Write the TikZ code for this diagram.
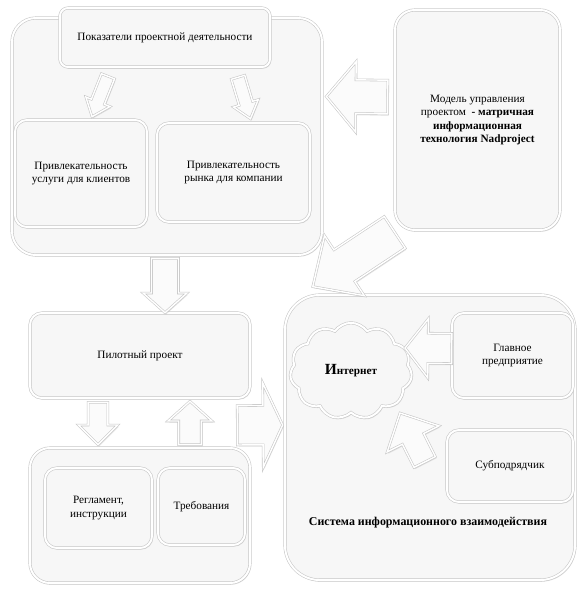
\documentclass[tikz,border=0pt]{standalone}
\usepackage{fontspec}
\setmainfont{Liberation Serif}
\usetikzlibrary{shapes.symbols,shadows,calc}

% hollow block arrow from #1 to #2: body half width, head half width, head length
\newcommand\blockarrow[5]{%
  \draw[barrow] let \p1=(#1), \p2=(#2), \n1={atan2(\y2-\y1,\x2-\x1)}, \n2={veclen(\x2-\x1,\y2-\y1)} in
    [shift={(\p1)}, rotate=\n1] (0pt,-#3) -- (\n2*1pt-#5,-#3) -- (\n2*1pt-#5,-#4) -- (\n2*1pt,0pt)
    -- (\n2*1pt-#5,#4) -- (\n2*1pt-#5,#3) -- (0pt,#3) -- cycle;}

\begin{document}
\begin{tikzpicture}[x=0.025cm, y=-0.025cm,
  bevel/.style={draw=gray!45, double=white, double distance=1.4pt, fill=gray!6,
    drop shadow={shadow xshift=0.8pt, shadow yshift=-1.2pt, opacity=0.3, fill=gray!70}},
  box/.style={bevel, rounded corners=#1, align=center, inner sep=2pt, font=\fontsize{8}{9.6}\selectfont},
  box/.default=6pt,
  barrow/.style={draw=gray!45, double=white, double distance=1pt, fill=gray!3, line join=miter,
    drop shadow={shadow xshift=0.8pt, shadow yshift=-1.2pt, opacity=0.3, fill=gray!70}},
  title/.style={font=\bfseries\fontsize{8.5}{10}\selectfont},
]
  \useasboundingbox (0,0) rectangle (586,594);

  % Project indicators
  \node[box=0.6cm, minimum width=7.75cm, minimum height=5.925cm] (panel) at (167,136.5) {};
  \node[box=0.2cm, minimum width=5.25cm, minimum height=1.475cm] (kpi) at (165,37.5) {Показатели проектной деятельности};
  \node[box=0.3cm, minimum width=3.3cm, minimum height=2.675cm] (clients) at (81,173.5) {Привлекательность\\услуги для клиентов};
  \node[box=0.3cm, minimum width=3.825cm, minimum height=2.475cm] (market) at (233.5,172.5) {Привлекательность\\рынка для компании};

  % Management model
  \node[box=0.5cm, minimum width=4.125cm, minimum height=5.5cm] (model) at (477.5,120)
    {Модель управления\\проектом \ \textbf{- матричная}\\\textbf{информационная}\\\textbf{технология Nadproject}};

  % Pilot project
  \node[box=0.3cm, minimum width=5.5cm, minimum height=2.125cm] (pilot) at (140,355.5) {Пилотный проект};
  \node[box=0.5cm, minimum width=5.5cm, minimum height=3.375cm] (docs) at (140,515.5) {};
  \node[box=0.3cm, minimum width=2.675cm, minimum height=2cm] (rules) at (98.5,508) {Регламент,\\инструкции};
  \node[box=0.3cm, minimum width=2.175cm, minimum height=1.925cm] (reqs) at (201.5,506.5) {Требования};

  % Information system
  \node[box=0.875cm, minimum width=7.25cm, minimum height=7.125cm] (system) at (430,437.5) {};
  \node[bevel, cloud, cloud puffs=11, cloud puff arc=110, minimum width=3.05cm, minimum height=2.15cm,
    font=\fontsize{8}{9.6}\selectfont\bfseries] (cloud) at (351,371) {{\fontsize{11}{12}\selectfont И}нтернет};
  \node[box=0.3cm, minimum width=3.025cm, minimum height=2.125cm] (main) at (512.5,355.5) {Главное\\предприятие};
  \node[box=0.3cm, minimum width=3.15cm, minimum height=1.8cm] (sub) at (510,466) {Субподрядчик};
  \node[title] (systitle) at (428,523) {Система информационного взаимодействия};

  % Arrows
  \blockarrow{$(kpi.south)+(-57,9)$}{$(clients.north)+(11,-3)$}{5pt}{9.2pt}{11.4pt}
  \blockarrow{$(kpi.south)+(73,10)$}{$(market.north)+(17,-4)$}{5pt}{9.2pt}{11.4pt}
  \blockarrow{$(model.west)+(-7,-23)$}{$(panel.east)+(4,-40)$}{12pt}{25pt}{21pt}
  \blockarrow{$(model.south west)+(0,2)$}{$(system.north west)+(28,-8)$}{13.5pt}{25.6pt}{27pt}
  \blockarrow{$(panel.south)+(-2,3)$}{$(pilot.north)+(25,0)$}{9.6pt}{15.6pt}{14pt}
  \blockarrow{$(pilot.south)+(-42,4)$}{$(docs.north)+(-42,-3)$}{7pt}{14pt}{14pt}
  \blockarrow{$(docs.north)+(50,-3)$}{$(pilot.south)+(50,3)$}{8pt}{15.6pt}{14pt}
  \blockarrow{$(pilot.south east)+(-13,27)$}{$(system.west)+(-2,-12.5)$}{14pt}{30pt}{14pt}
  \blockarrow{$(main.west)+(0,-7)$}{$(cloud.center)+(54,-23)$}{10.7pt}{21pt}{16.4pt}
  \blockarrow{$(sub.west)+(-22,-4)$}{$(cloud.center)+(49,42)$}{8.5pt}{20.6pt}{20.6pt}
\end{tikzpicture}
\end{document}
